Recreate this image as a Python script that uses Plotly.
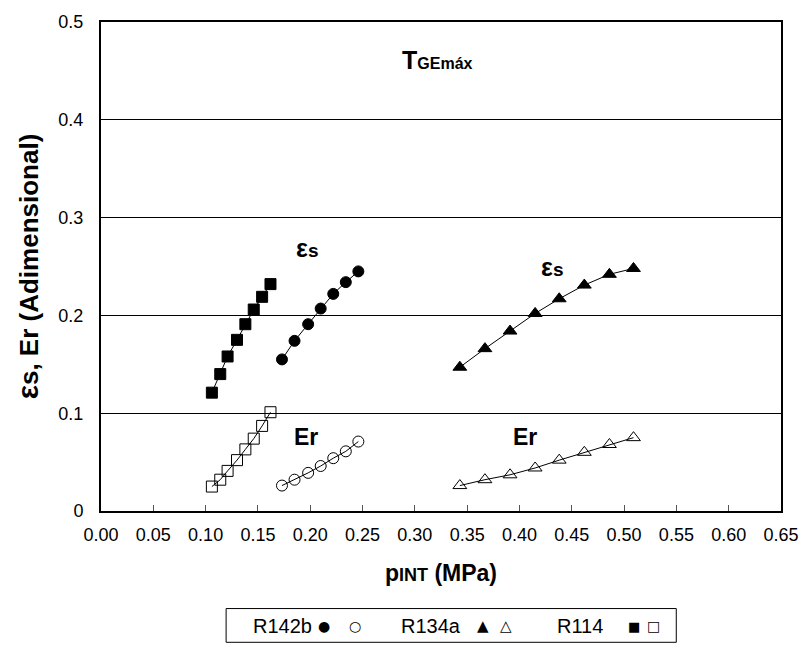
import plotly.graph_objects as go

# Interstage pressure (MPa) for each refrigerant
r114_p = [0.106, 0.114, 0.121, 0.130, 0.138, 0.146, 0.154, 0.162]
r142b_p = [0.173, 0.185, 0.198, 0.210, 0.222, 0.234, 0.246]
r134a_p = [0.343, 0.367, 0.391, 0.415, 0.438, 0.462, 0.486, 0.509]

# epsilon_s (filled markers)
r114_es = [0.121, 0.140, 0.158, 0.175, 0.191, 0.206, 0.219, 0.232]
r142b_es = [0.155, 0.174, 0.191, 0.207, 0.222, 0.234, 0.245]
r134a_es = [0.147, 0.166, 0.184, 0.202, 0.217, 0.231, 0.242, 0.248]

# Er (open markers)
r114_er = [0.025, 0.032, 0.041, 0.052, 0.063, 0.074, 0.087, 0.101]
r142b_er = [0.026, 0.032, 0.039, 0.046, 0.054, 0.061, 0.071]
r134a_er = [0.026, 0.032, 0.037, 0.044, 0.052, 0.060, 0.068, 0.075]

y_ticks = [0, 0.1, 0.2, 0.3, 0.4, 0.5]
y_tick_text = ["0", "0.1", "0.2", "0.3", "0.4", "0.5"]

legend_names = ["R142b", "R134a", "R114"]
legend_glyphs = [("●", "○"), ("▲", "△"), ("■", "□")]

FONT = "Liberation Sans, Arial, sans-serif"
SYMFONT = "DejaVu Sans"

fig = go.Figure()

series = [
    (r114_p, r114_es, "square", 11),
    (r114_p, r114_er, "square-open", 11),
    (r142b_p, r142b_es, "circle", 11),
    (r142b_p, r142b_er, "circle-open", 11),
    (r134a_p, r134a_es, "triangle-up", 12),
    (r134a_p, r134a_er, "triangle-up-open", 12),
]
for xs, ys, sym, size in series:
    fig.add_trace(go.Scatter(
        x=xs, y=ys, mode="lines+markers",
        line=dict(color="black", width=1),
        marker=dict(symbol=sym, size=size, color="black",
                    line=dict(color="black", width=1)),
        showlegend=False, hoverinfo="skip",
    ))

eps = ("<b><span style='font-size:25px'>ε</span>"
       "<span style='font-size:19px'>s</span></b>")
labels = [
    (0.197, 0.269, eps),
    (0.431, 0.250, eps),
    (0.196, 0.076, "<b>Er</b>"),
    (0.405, 0.076, "<b>Er</b>"),
    (0.322, 0.461, "<b><span style='font-size:25px'>T</span>"
                   "<span style='font-size:16px'>GEmáx</span></b>"),
]
for x, y, t in labels:
    fig.add_annotation(x=x, y=y, text=t, showarrow=False,
                       font=dict(family=FONT, size=23, color="black"),
                       xanchor="center", yanchor="middle")

# Legend box below the plot: name followed by its filled / open symbols
fig.add_shape(type="rect", xref="paper", yref="paper",
              x0=0.184, x1=0.846, y0=-0.2685, y1=-0.1995,
              line=dict(color="black", width=1), fillcolor="white")
legend_y = -0.236
name_x = [0.2203, 0.4377, 0.6681]
glyph_x = [(0.3275, 0.374), (0.5623, 0.5957), (0.7841, 0.8130)]
glyph_size = [(14, 14), (15, 15), (13, 14)]
for name, nx, (g1, g2), (x1, x2), (s1, s2) in zip(
        legend_names, name_x, legend_glyphs, glyph_x, glyph_size):
    fig.add_annotation(xref="paper", yref="paper", x=nx, y=legend_y,
                       xanchor="left", yanchor="middle", showarrow=False,
                       text=name,
                       font=dict(family=FONT, size=20, color="black"))
    for g, gx, gs in ((g1, x1, s1), (g2, x2, s2)):
        fig.add_annotation(xref="paper", yref="paper", x=gx, y=legend_y,
                           xanchor="center", yanchor="middle", showarrow=False,
                           text=g, font=dict(family=SYMFONT, size=gs, color="black"))

fig.update_layout(
    width=811, height=646,
    margin=dict(l=101, r=20, t=18, b=135),
    paper_bgcolor="white", plot_bgcolor="white",
    font=dict(family=FONT, size=18, color="black"),
    xaxis=dict(
        range=[0, 0.65], dtick=0.05, tick0=0, tickformat=".2f",
        showgrid=False, zeroline=False,
        showline=True, linecolor="black", linewidth=2, mirror=True,
        ticks="inside", ticklen=6, tickcolor="#555", tickwidth=1,
        ticklabelstandoff=6,
        title=dict(text="<b>p<span style='font-size:18px'>INT</span> (MPa)</b>",
                   font=dict(size=23), standoff=21),
    ),
    yaxis=dict(
        range=[0, 0.5], tickvals=y_ticks, ticktext=y_tick_text,
        showgrid=True, gridcolor="black", gridwidth=1, zeroline=False,
        showline=True, linecolor="black", linewidth=2, mirror=True,
        ticks="", ticklabelstandoff=12,
        title=dict(text="<b><span style='font-size:30px'>ε</span>s, Er (Adimensional)</b>",
                   font=dict(size=26), standoff=12),
    ),
)

fig.write_html("out.html")
